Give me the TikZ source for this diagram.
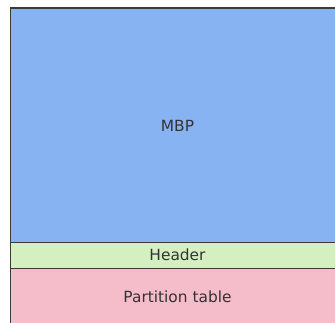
\documentclass[tikz,border=0pt]{standalone}
\usepackage{fontspec}
\setmainfont{DejaVu Sans}
\definecolor{mbpblue}{HTML}{88B3F2}
\definecolor{hdrgreen}{HTML}{D5F0C0}
\definecolor{ptpink}{HTML}{F5BCC9}
\definecolor{edge}{HTML}{3A3A3A}
\definecolor{txt}{HTML}{333333}
\begin{document}
\begin{tikzpicture}[x=1pt,y=-1pt,
  region/.style={draw=edge, line width=1.5pt},
  lbl/.style={text=txt, font=\fontsize{15.4}{18}\selectfont, inner sep=0pt}]
\useasboundingbox (0,0) rectangle (335,323);
% stacked regions, extending past the right and bottom edges
\filldraw[region, fill=ptpink] (10.7,268.3) rectangle (344.5,335);
\filldraw[region, fill=hdrgreen] (10.7,242.7) rectangle (344.5,268.3);
\filldraw[region, fill=mbpblue] (10.7,8) rectangle (344.5,242.7);
\node[lbl] (mbp) at (177.5,126) {MBP};
\node[lbl] (hdr) at (177.5,255) {Header};
\node[lbl] (pt) at (177.5,297) {Partition table};
\end{tikzpicture}
\end{document}
